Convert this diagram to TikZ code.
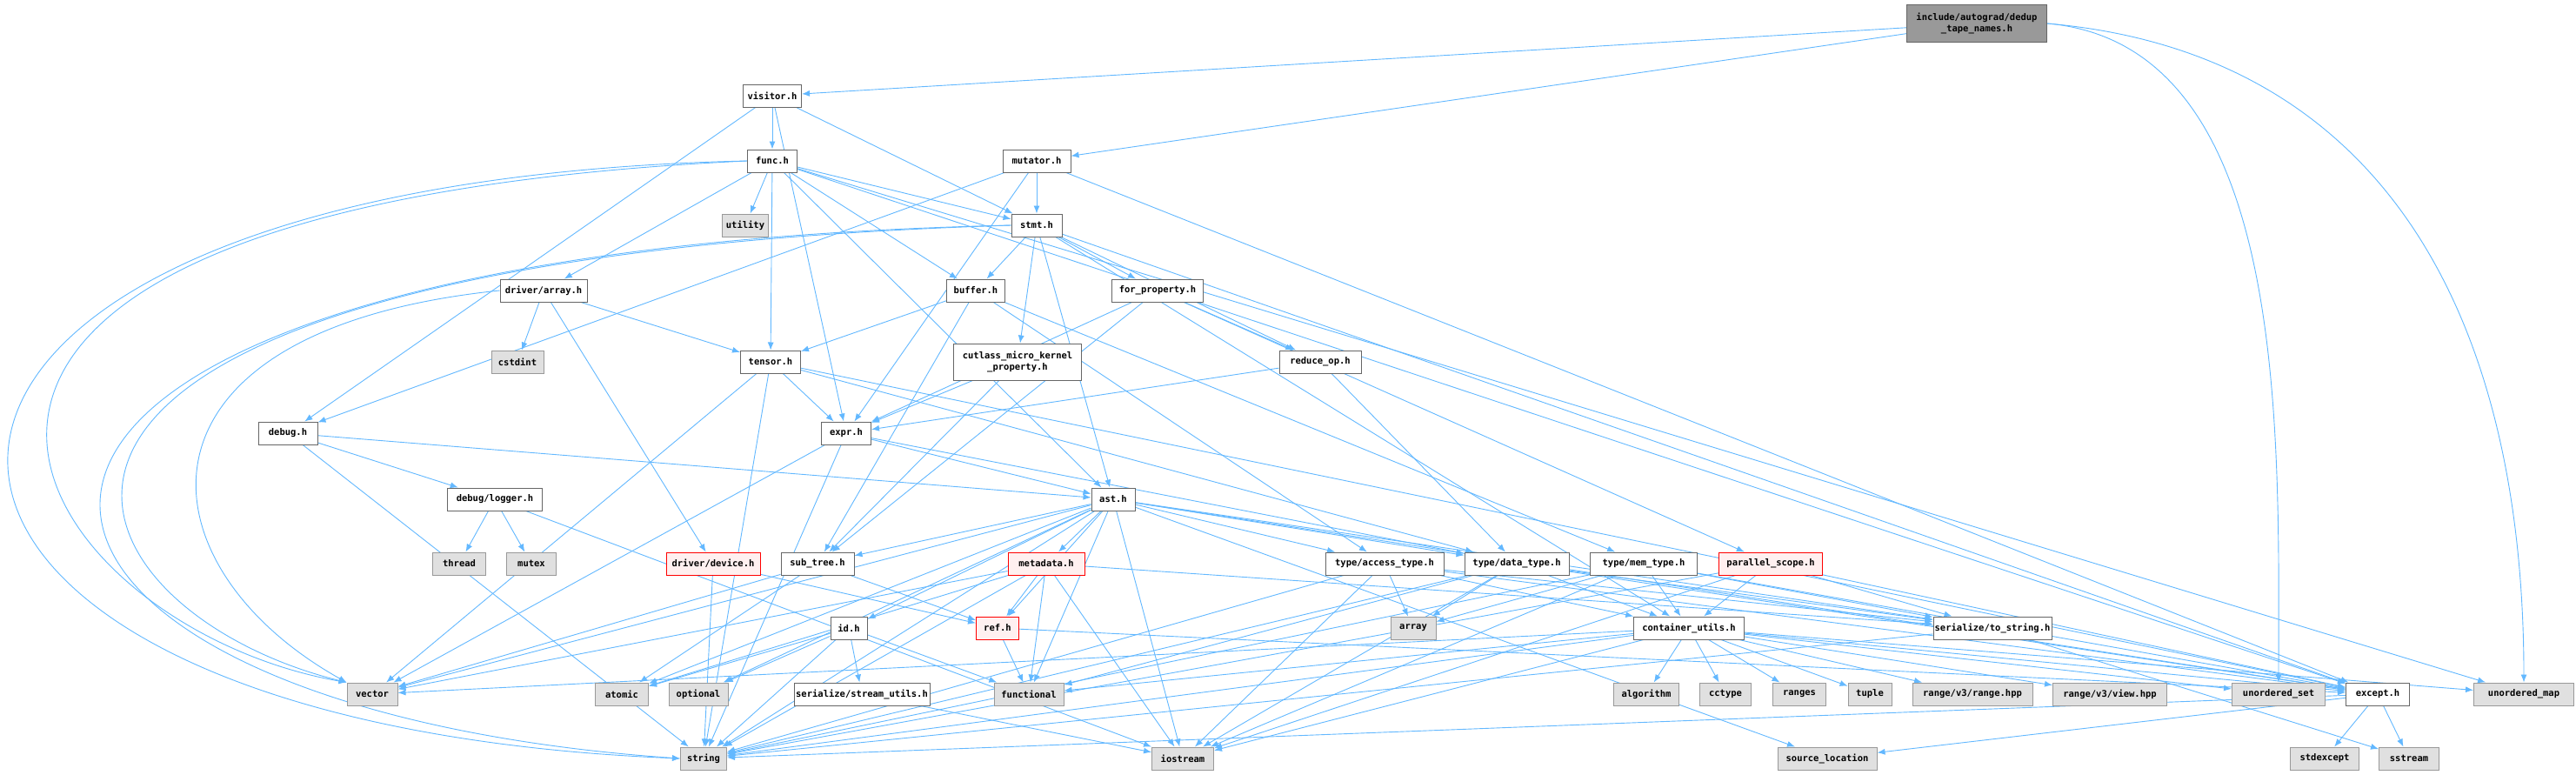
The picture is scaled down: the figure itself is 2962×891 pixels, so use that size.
\documentclass[tikz,border=0pt]{standalone}
\usepackage{fontspec}
\setmonofont{DejaVu Sans Mono}
\usetikzlibrary{arrows.meta,backgrounds}
\definecolor{edgeblue}{HTML}{63B8FF}
\definecolor{boxline}{HTML}{666666}
\definecolor{sysfill}{HTML}{E0E0E0}
\definecolor{sysline}{HTML}{999999}
\definecolor{rootfill}{HTML}{999999}
\definecolor{truncfill}{HTML}{FFF0F0}
\tikzset{
  hdr/.style={draw=boxline, line width=1pt, fill=white, minimum height=26, inner sep=1.5pt,
    align=center, font=\ttfamily\bfseries\fontsize{10.5}{13}\selectfont},
  sys/.style={hdr, draw=sysline, fill=sysfill},
  root/.style={hdr, fill=rootfill, minimum height=43},
  trunc/.style={hdr, draw=red, fill=truncfill},
  dep/.style={draw=edgeblue, line width=0.9pt, -{Latex[length=9pt,width=7pt]}},
}

\begin{document}
\begin{tikzpicture}[x=1pt, y=-1pt]
\useasboundingbox (0,0) rectangle (2962,891);

% top rows
\node[root, minimum width=161] (dedup) at (2273,27) {include/autograd/dedup\\\_tape\_names.h};
\node[hdr, minimum width=67] (visitor) at (888,110) {visitor.h};
\node[hdr, minimum width=57] (func) at (888,185) {func.h};
\node[hdr, minimum width=78] (mutator) at (1192,185) {mutator.h};
\node[sys, minimum width=53] (utility) at (857,259) {utility};
\node[hdr, minimum width=58] (stmt) at (1192,259) {stmt.h};
\node[hdr, minimum width=100] (darray) at (625,334) {driver/array.h};
\node[hdr, minimum width=67] (buffer) at (1122,334) {buffer.h};
\node[hdr, minimum width=105] (forprop) at (1331,334) {for\_property.h};
\node[sys, minimum width=60] (cstdint) at (595,416) {cstdint};
\node[hdr, minimum width=69] (tensor) at (886,416) {tensor.h};
\node[hdr, minimum width=147, minimum height=42] (cutlass) at (1170,416) {cutlass\_micro\_kernel\\\_property.h};
\node[hdr, minimum width=94] (reduceop) at (1518,416) {reduce\_op.h};
\node[hdr, minimum width=68] (debug) at (331,498) {debug.h};
\node[hdr, minimum width=57] (expr) at (973,498) {expr.h};
\node[hdr, minimum width=109] (logger) at (569,574) {debug/logger.h};
\node[hdr, minimum width=50] (ast) at (1280,574) {ast.h};

% middle rows
\node[sys, minimum width=61] (thread) at (528,648) {thread};
\node[sys, minimum width=57] (mutex) at (611,648) {mutex};
\node[trunc, minimum width=108] (device) at (820,648) {driver/device.h};
\node[hdr, minimum width=84] (subtree) at (940,648) {sub\_tree.h};
\node[trunc, minimum width=88] (metadata) at (1203,648) {metadata.h};
\node[hdr, minimum width=136] (accesstype) at (1592,648) {type/access\_type.h};
\node[hdr, minimum width=120] (datatype) at (1744,648) {type/data\_type.h};
\node[hdr, minimum width=123] (memtype) at (1890,648) {type/mem\_type.h};
\node[trunc, minimum width=119] (pscope) at (2036,648) {parallel\_scope.h};
\node[hdr, minimum width=42] (id) at (976,722) {id.h};
\node[trunc, minimum width=49] (ref) at (1147,722) {ref.h};
\node[sys, minimum width=52] (array) at (1625,722) {array};
\node[hdr, minimum width=127] (cutils) at (1942,722) {container\_utils.h};
\node[hdr, minimum width=136] (tostring) at (2291,722) {serialize/to\_string.h};

% bottom rows
\node[sys, minimum width=58] (vector) at (428,798) {vector};
\node[sys, minimum width=61] (atomic) at (715,798) {atomic};
\node[sys, minimum width=68] (optional) at (803,798) {optional};
\node[hdr, minimum width=156] (streamutils) at (991,798) {serialize/stream\_utils.h};
\node[sys, minimum width=80] (functional) at (1183,798) {functional};
\node[sys, minimum width=75] (algorithm) at (1893,798) {algorithm};
\node[sys, minimum width=59] (cctype) at (1984,798) {cctype};
\node[sys, minimum width=61] (ranges) at (2069,798) {ranges};
\node[sys, minimum width=50] (tuple) at (2150,798) {tuple};
\node[sys, minimum width=138] (rangehpp) at (2268,798) {range/v3/range.hpp};
\node[sys, minimum width=131] (viewhpp) at (2426,798) {range/v3/view.hpp};
\node[sys, minimum width=107] (uset) at (2620,798) {unordered\_set};
\node[hdr, minimum width=73] (except) at (2734,798) {except.h};
\node[sys, minimum width=115] (umap) at (2902,798) {unordered\_map};
\node[sys, minimum width=53] (string) at (809,872) {string};
\node[sys, minimum width=71] (iostream) at (1360,872) {iostream};
\node[sys, minimum width=114] (srcloc) at (2101,872) {source\_location};
\node[sys, minimum width=79] (stdexcept) at (2673,872) {stdexcept};
\node[sys, minimum width=69] (sstream) at (2770,872) {sstream};

\begin{pgfonlayer}{background}
% includes
\foreach \t in {visitor,mutator} \draw[dep] (dedup) -- (\t);
\draw[dep] (dedup.east) to[out=-5, in=90, looseness=0.9] (uset.north);
\draw[dep] (dedup.east) to[out=-5, in=90, looseness=1.1] (umap.north);
\foreach \t in {func,stmt,expr,debug} \draw[dep] (visitor) -- (\t);
\foreach \t in {stmt,expr,debug,except} \draw[dep] (mutator) -- (\t);
\foreach \t in {utility,darray,tensor,buffer,stmt,ast,umap,except} \draw[dep] (func) -- (\t);
\draw[dep] (func.west) .. controls (-270,210) and (-250,830) .. (string.west);
\draw[dep] (func.west) .. controls (-300,240) and (30,720) .. (vector.north west);
\foreach \t in {buffer,forprop,cutlass,reduceop,ast,cutils,except} \draw[dep] (stmt) -- (\t);
\draw[dep] (stmt.west) .. controls (-220,290) and (-110,810) .. (string.west);
\draw[dep] (stmt.west) .. controls (-150,300) and (57,700) .. (vector.north west);
\foreach \t in {cstdint,tensor,device} \draw[dep] (darray) -- (\t);
\draw[dep] (darray.west) .. controls (130,380) and (158,650) .. (vector.north west);
\foreach \t in {tensor,subtree,accesstype,memtype} \draw[dep] (buffer) -- (\t);
\foreach \t in {reduceop,pscope,subtree,expr} \draw[dep] (forprop) -- (\t);
\foreach \t in {expr,subtree} \draw[dep] (cutlass) -- (\t);
\foreach \t in {expr,datatype,vector,string,except} \draw[dep] (tensor) -- (\t);
\foreach \t in {expr,datatype} \draw[dep] (reduceop) -- (\t);
\foreach \t in {ast,datatype,vector,string} \draw[dep] (expr) -- (\t);
\foreach \t in {logger,ast,string} \draw[dep] (debug) -- (\t);
\foreach \t in {thread,mutex,iostream} \draw[dep] (logger) -- (\t);
\foreach \t in {subtree,metadata,id,ref,functional,iostream,accesstype,datatype,atomic,optional,vector,string,srcloc,except,tostring} \draw[dep] (ast) -- (\t);
\foreach \t in {ref,string} \draw[dep] (device) -- (\t);
\foreach \t in {vector,atomic,ref} \draw[dep] (subtree) -- (\t);
\foreach \t in {ref,functional,iostream,string,vector,tostring,atomic} \draw[dep] (metadata) -- (\t);
\foreach \t in {atomic,optional,streamutils,string,functional} \draw[dep] (id) -- (\t);
\foreach \t in {functional,except} \draw[dep] (ref) -- (\t);
\draw[dep] (streamutils) -- (iostream);
\foreach \t in {array,iostream,string,cutils,tostring,except} \draw[dep] (accesstype) -- (\t);
\foreach \t in {array,cutils,tostring,except,functional,iostream,string} \draw[dep] (datatype) -- (\t);
\foreach \t in {array,cutils,tostring,except,iostream,string} \draw[dep] (memtype) -- (\t);
\foreach \t in {cutils,tostring,except,string,iostream} \draw[dep] (pscope) -- (\t);
\foreach \t in {algorithm,cctype,ranges,tuple,rangehpp,viewhpp,uset,umap,except,string,vector,iostream,functional} \draw[dep] (cutils) -- (\t);
\foreach \t in {sstream,string} \draw[dep] (tostring) -- (\t);
\foreach \t in {stdexcept,sstream,srcloc,string} \draw[dep] (except) -- (\t);
\end{pgfonlayer}

\end{tikzpicture}
\end{document}
